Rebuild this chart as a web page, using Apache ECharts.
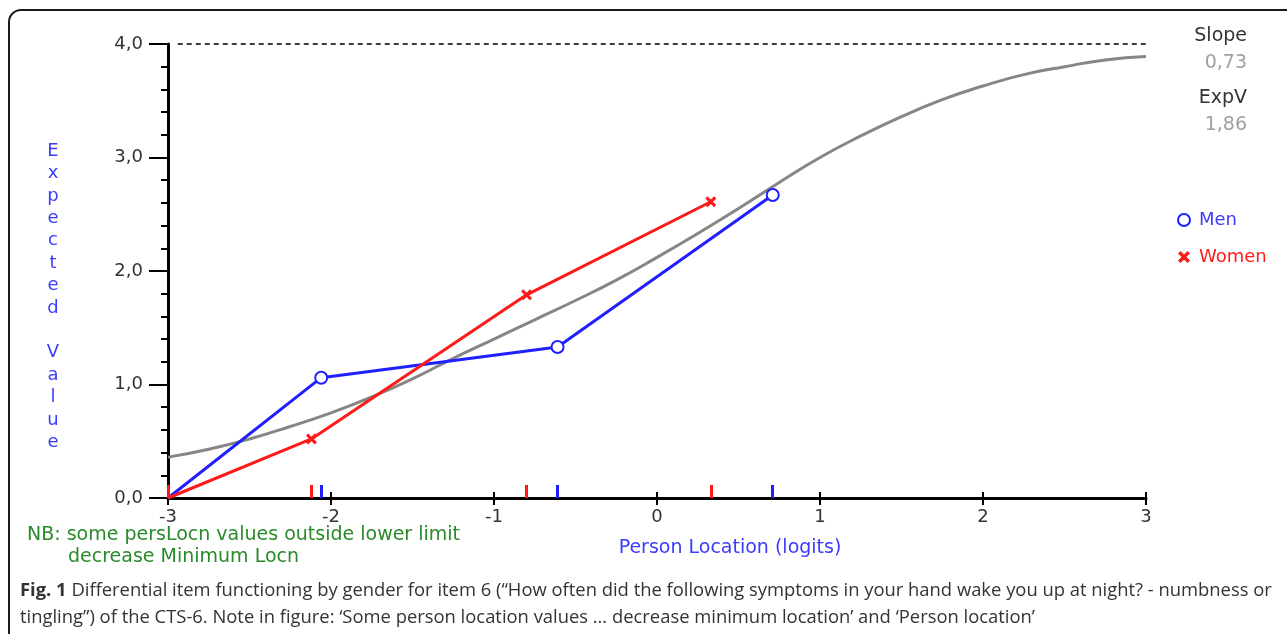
<!DOCTYPE html>
<html>
<head>
<meta charset="utf-8">
<script src="https://cdn.jsdelivr.net/npm/echarts@6/dist/echarts.min.js"></script>
<style>
html,body{margin:0;padding:0;background:#fff;}
#chart{width:1287px;height:634px;}
</style>
</head>
<body>
<div id="chart"></div>
<script>
// Expected value curve (grey ICC)
var curveX = [-3.0,-2.75,-2.5,-2.25,-2.0,-1.75,-1.5,-1.25,-1.0,-0.75,-0.5,-0.25,0.0,0.25,0.5,0.75,1.0,1.25,1.5,1.75,2.0,2.25,2.5,2.75,3.0];
var curveY = [0.36,0.43,0.52,0.63,0.75,0.89,1.05,1.23,1.40,1.57,1.74,1.92,2.12,2.33,2.55,2.78,3.00,3.19,3.36,3.51,3.63,3.73,3.80,3.86,3.89];
// Observed class means
var menX = [-3.0,-2.06,-0.61,0.71];
var menY = [0.0,1.06,1.33,2.67];
var womenX = [-3.0,-2.12,-0.80,0.33];
var womenY = [0.0,0.52,1.79,2.61];
var xTicks = [-3,-2,-1,0,1,2,3];
var yTicks = [0,1,2,3,4];
var stats = {slope:'0,73', expv:'1,86'};

var FONT = 'DejaVu Sans';
var BLUE = '#1f1fff';
var RED = '#ff1a1a';
var TXTBLUE = '#3b3bff';

function pairs(xs, ys){ return xs.map(function(x,i){ return [x, ys[i]]; }); }
function ticks(xs){ return xs.map(function(x){ return [{coord:[x,0]},{coord:[x,0.115]}]; }); }

var crossPath = 'path://M0,2L2,0L5,3L8,0L10,2L7,5L10,8L8,10L5,7L2,10L0,8L3,5Z';

var menData = pairs(menX, menY).map(function(p,i){ return i===0 ? {value:p, symbol:'none'} : p; });
var womenData = pairs(womenX, womenY).map(function(p,i){ return i===0 ? {value:p, symbol:'none'} : p; });

var CAP = {fontFamily:'Open Sans', fontSize:18.4};

var chart = echarts.init(document.getElementById('chart'));
var option = {
  animation:false,
  backgroundColor:'#fff',
  grid:{left:168, right:141, top:44, bottom:136, containLabel:false},
  xAxis:[{
    type:'value', min:xTicks[0], max:xTicks[xTicks.length-1], interval:1, position:'bottom',
    axisLine:{onZero:false, lineStyle:{color:'#000', width:3}},
    axisTick:{length:7, lineStyle:{color:'#000', width:2}},
    axisLabel:{margin:10, color:'#333', fontFamily:FONT, fontSize:18},
    splitLine:{show:false}
  },{
    type:'value', min:xTicks[0], max:xTicks[xTicks.length-1], interval:1, position:'bottom',
    axisLine:{show:false, onZero:false},
    axisTick:{inside:true, length:6, lineStyle:{color:'#000', width:2}},
    axisLabel:{show:false},
    splitLine:{show:false}
  }],
  yAxis:{
    type:'value', min:yTicks[0], max:yTicks[yTicks.length-1], interval:1,
    axisLine:{onZero:false, lineStyle:{color:'#000', width:3}},
    axisTick:{length:19, lineStyle:{color:'#000', width:2}},
    minorTick:{show:true, splitNumber:5, length:7, lineStyle:{color:'#000', width:2}},
    axisLabel:{margin:25, color:'#333', fontFamily:FONT, fontSize:18,
      formatter:function(v){ return v.toFixed(1).replace('.',','); }},
    splitLine:{show:false}
  },
  legend:{
    orient:'vertical', left:1172, top:206, itemWidth:20, itemHeight:12, itemGap:19,
    textStyle:{fontFamily:FONT, fontSize:18},
    data:[
      {name:'Men', icon:'emptyCircle', textStyle:{color:TXTBLUE}, itemStyle:{borderWidth:3}},
      {name:'Women', icon:crossPath, textStyle:{color:RED}}
    ]
  },
  series:[
    {
      name:'Expected', type:'line', data:pairs(curveX, curveY), smooth:true, symbol:'none',
      lineStyle:{color:'#868686', width:3}, z:1,
      markLine:{silent:true, symbol:'none', label:{show:false},
        lineStyle:{color:'#000', width:1.5, type:[5,4]},
        data:[[{coord:[-2.94,4]},{coord:[3,4]}]]}
    },
    {
      name:'Men', type:'line', data:menData, symbol:'emptyCircle', symbolSize:12,
      lineStyle:{color:BLUE, width:3}, itemStyle:{color:BLUE, borderColor:BLUE, borderWidth:2}, z:3,
      markLine:{silent:true, symbol:'none', label:{show:false},
        lineStyle:{color:BLUE, width:3, type:'solid'}, data:ticks(menX)}
    },
    {
      name:'Women', type:'line', data:womenData, symbol:crossPath, symbolSize:11,
      lineStyle:{color:RED, width:3}, itemStyle:{color:RED}, z:4,
      markLine:{silent:true, symbol:'none', label:{show:false},
        lineStyle:{color:RED, width:3, type:'solid'}, data:ticks(womenX)}
    }
  ],
  graphic:[
    {type:'rect', z:-1, shape:{x:9, y:10, width:1320, height:700, r:12},
      style:{fill:'none', stroke:'#1a1a1a', lineWidth:2}},
    {type:'text', x:1247, y:36, style:{text:'Slope', fill:'#333', font:'19px "DejaVu Sans"', align:'right', verticalAlign:'middle'}},
    {type:'text', x:1247, y:63, style:{text:stats.slope, fill:'#a0a0a0', font:'19px "DejaVu Sans"', align:'right', verticalAlign:'middle'}},
    {type:'text', x:1247, y:98, style:{text:'ExpV', fill:'#333', font:'19px "DejaVu Sans"', align:'right', verticalAlign:'middle'}},
    {type:'text', x:1247, y:125, style:{text:stats.expv, fill:'#a0a0a0', font:'19px "DejaVu Sans"', align:'right', verticalAlign:'middle'}},
    {type:'text', x:53, y:140, style:{text:'E\nx\np\ne\nc\nt\ne\nd\n \nV\na\nl\nu\ne', fill:TXTBLUE, font:'18px "DejaVu Sans"', lineHeight:22.4, align:'center', verticalAlign:'top'}},
    {type:'text', x:730, y:548, style:{text:'Person Location (logits)', fill:TXTBLUE, font:'19px "DejaVu Sans"', align:'center', verticalAlign:'middle'}},
    {type:'text', x:27, y:535, style:{text:'NB: some persLocn values outside lower limit', fill:'#2a8a2a', font:'19px "DejaVu Sans"', align:'left', verticalAlign:'middle'}},
    {type:'text', x:68, y:557, style:{text:'decrease Minimum Locn', fill:'#2a8a2a', font:'19px "DejaVu Sans"', align:'left', verticalAlign:'middle'}},
    {type:'text', x:20, y:591, style:{text:'{b|Fig. 1} Differential item functioning by gender for item 6 (\u201cHow often did the following symptoms in your hand wake you up at night? - numbness or',
      fill:'#333', fontFamily:CAP.fontFamily, fontSize:CAP.fontSize, align:'left', verticalAlign:'middle',
      rich:{b:{fontWeight:'bold', fontFamily:CAP.fontFamily, fontSize:CAP.fontSize, fill:'#333'}}}},
    {type:'text', x:20, y:618, style:{text:'tingling\u201d) of the CTS-6. Note in figure: \u2018Some person location values \u2026 decrease minimum location\u2019 and \u2018Person location\u2019',
      fill:'#333', fontFamily:CAP.fontFamily, fontSize:CAP.fontSize, align:'left', verticalAlign:'middle'}}
  ]
};
chart.setOption(option);
</script>
</body>
</html>
